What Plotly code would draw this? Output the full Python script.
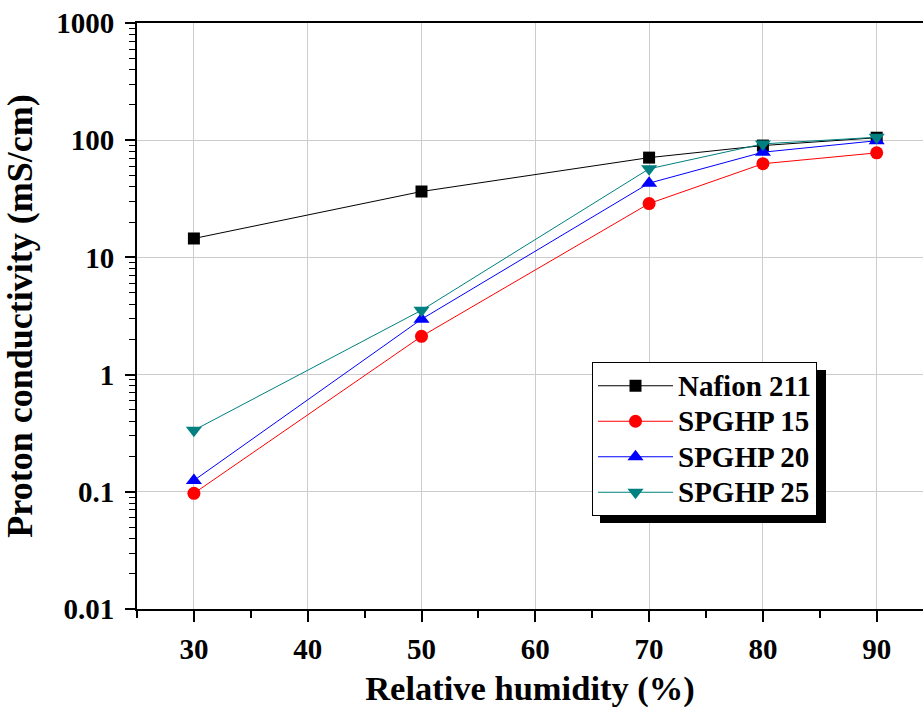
import plotly.graph_objects as go

rh = [30, 50, 70, 80, 90]
nafion_211 = [14.5, 36.5, 71, 90, 105]
spghp_15 = [0.097, 2.12, 28.8, 63, 78]
spghp_20 = [0.125, 2.97, 43, 79, 99]
spghp_25 = [0.335, 3.54, 57, 93, 106]

x_ticks = [30, 40, 50, 60, 70, 80, 90]
x_minor = [25, 35, 45, 55, 65, 75, 85]
y_ticks = [0.01, 0.1, 1, 10, 100, 1000]
y_ticktext = ["0.01", "0.1", "1", "10", "100", "1000"]
y_minor = [m * d for d in [0.01, 0.1, 1, 10, 100] for m in range(2, 10)]

FONT = "Liberation Serif, Times New Roman, serif"

series = [
    ("Nafion 211", nafion_211, "black", "square", 12),
    ("SPGHP 15", spghp_15, "#ff0000", "circle", 13),
    ("SPGHP 20", spghp_20, "#0000ff", "triangle-up", 14),
    ("SPGHP 25", spghp_25, "#008080", "triangle-down", 14),
]

fig = go.Figure()
for i, (name, vals, col, sym, sz) in enumerate(series):
    fig.add_trace(go.Scatter(
        x=rh, y=vals, name=f'<span style="font-size:29px">{name}</span>',
        mode="lines+markers",
        line=dict(color=col, width=1),
        marker=dict(symbol=sym, size=sz, color=col, line=dict(width=0)),
    ))

PL, PT, B = 137, 23, 108
W, H = 923, 717
PW = W - PL
PH = H - PT - B

LEG_L, LEG_T = 592, 362          # legend top-left (px)
LEG_W, LEG_H = 226, 153          # approximate legend size

fig.update_layout(
    width=W, height=H,
    margin=dict(l=PL, r=0, t=PT, b=B, autoexpand=False),
    paper_bgcolor="white", plot_bgcolor="white",
    font=dict(family=FONT, color="black", size=28, weight="bold"),
    showlegend=True,
    legend=dict(
        x=(LEG_L - PL) / PW, y=(PT + PH - LEG_T) / PH, xanchor="left", yanchor="top",
        bgcolor="white", bordercolor="black", borderwidth=1,
        font=dict(family=FONT, size=25, color="black", weight="bold"),
        tracegroupgap=0, itemwidth=75,
    ),
)

fig.update_xaxes(
    range=[25, 25 + PW / 11.38], tickvals=x_ticks, automargin=False,
    showline=True, linecolor="black", linewidth=2, mirror=True,
    ticks="outside", ticklen=11, tickwidth=2, tickcolor="black", ticklabelstandoff=2,
    ticklabeloverflow="allow",
    showgrid=True, gridcolor="#cccccc", gridwidth=1, zeroline=False,
    tickfont=dict(size=29, family=FONT, weight="bold"),
    minor=dict(tickvals=x_minor, ticks="outside", ticklen=7, tickwidth=2,
               tickcolor="black", showgrid=False),
    title=dict(text="Relative humidity (%)", font=dict(size=34.5, family=FONT, weight="bold"), standoff=12),
)
fig.update_yaxes(
    type="log", range=[-2, 3], tickvals=y_ticks, ticktext=y_ticktext, automargin=False,
    showline=True, linecolor="black", linewidth=2, mirror=False,
    ticks="outside", ticklen=10, tickwidth=2, tickcolor="black", ticklabelstandoff=5,
    ticklabeloverflow="allow",
    showgrid=True, gridcolor="#cccccc", gridwidth=1, zeroline=False,
    tickfont=dict(size=29, family=FONT, weight="bold"),
    minor=dict(tickvals=y_minor, ticks="outside", ticklen=6, tickwidth=1,
               tickcolor="black", showgrid=False),
    title=dict(text="Proton conductivity (mS/cm)", font=dict(size=36, family=FONT, weight="bold"), standoff=16),
)

# legend drop shadow
fig.add_shape(type="rect", xref="paper", yref="paper",
              x0=(LEG_L + 8 - PL) / PW, x1=(LEG_L + LEG_W + 8 - PL) / PW,
              y0=(PT + PH - (LEG_T + LEG_H + 8)) / PH, y1=(PT + PH - (LEG_T + 8)) / PH,
              fillcolor="black", line=dict(width=0), layer="above")

fig.write_html("out.html", config={"displayModeBar": False},
               post_script="document.body.style.margin='0px';document.body.style.overflow='hidden';")
